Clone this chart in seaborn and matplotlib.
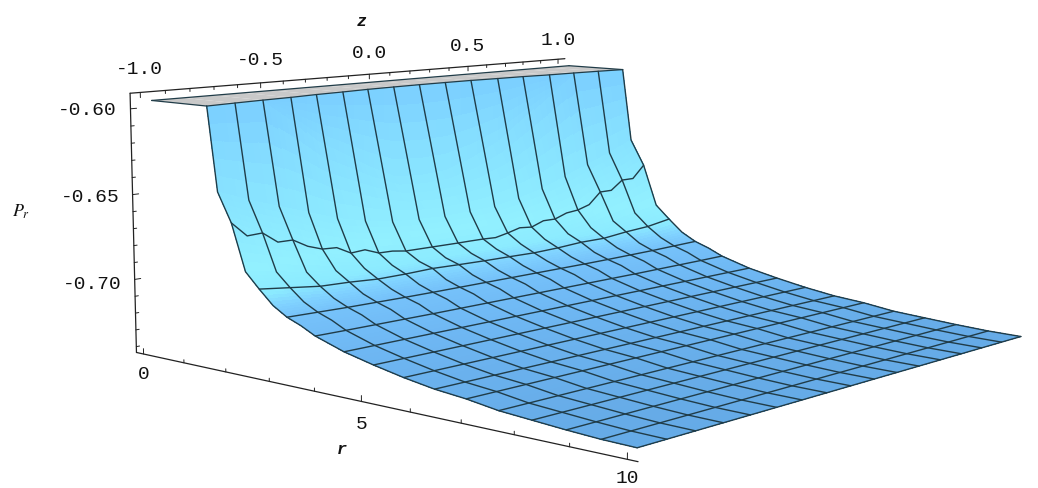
import numpy as np
import matplotlib
matplotlib.use('Agg')
import matplotlib.pyplot as plt
from mpl_toolkits.mplot3d import proj3d
import seaborn as sns

# ---------- data ----------
r_start = 0.1
r_end = 10.0
z_values = [-1, -0.875, -0.75, -0.625, -0.5, -0.375, -0.25, -0.125, 0,
            0.125, 0.25, 0.375, 0.5, 0.625, 0.75, 0.875, 1]
P_clip = -0.595
r_clip_edge = [1.43, 1.36, 1.30, 1.26, 1.18, 1.14, 1.08, 1.06, 1.05,
               1.06, 1.08, 1.14, 1.18, 1.26, 1.30, 1.36, 1.43]
r_rows = [1.3375, 1.647, 1.956, 2.266, 2.575, 2.884, 3.194, 3.503, 3.8125,
          4.431, 5.05, 5.669, 6.2875, 6.906, 7.525, 8.144, 8.7625, 9.381, 10.0]
P_r1_34 = [-0.595, -0.595, -0.595, -0.6082, -0.6230, -0.6328, -0.6427, -0.6511, -0.6526,
           -0.6515, -0.6458, -0.6366, -0.6233, -0.6089, -0.595, -0.595, -0.595]
P_r1_65 = [-0.643, -0.650, -0.656, -0.662, -0.668, -0.672, -0.675, -0.676, -0.6765,
           -0.676, -0.675, -0.672, -0.668, -0.662, -0.656, -0.650, -0.643]
P_r1_96 = [-0.6595, -0.6678, -0.6745, -0.6825, -0.6876, -0.6903, -0.6918, -0.6920, -0.6922,
           -0.6923, -0.6910, -0.6897, -0.6869, -0.6833, -0.6735, -0.6676, -0.6595]
P_r2_27 = [-0.686, -0.689, -0.692, -0.694, -0.6955, -0.6965, -0.697, -0.6975, -0.6975,
           -0.6975, -0.697, -0.6965, -0.6955, -0.694, -0.692, -0.689, -0.686]
P_r2_58 = [-0.6945, -0.6967, -0.6989, -0.6995, -0.7006, -0.7005, -0.7000, -0.7005, -0.7009,
           -0.7011, -0.7014, -0.7009, -0.6999, -0.6999, -0.6982, -0.6971, -0.6945]
P_r2_88 = [-0.7024, -0.7035, -0.7045, -0.705, -0.7053, -0.7055, -0.7055, -0.7055, -0.7055,
           -0.7055, -0.7055, -0.7055, -0.7053, -0.705, -0.7045, -0.7035, -0.7024]
P_r3_19 = [-0.7075, -0.7079, -0.7083, -0.7085, -0.7087, -0.7088, -0.7088, -0.7088, -0.7088,
           -0.7088, -0.7088, -0.7088, -0.7087, -0.7085, -0.7083, -0.7079, -0.7075]
P_r3_50 = [-0.7108, -0.7110, -0.7112, -0.7113, -0.7114, -0.7115, -0.7115, -0.7115, -0.7115,
           -0.7115, -0.7115, -0.7115, -0.7114, -0.7113, -0.7112, -0.7110, -0.7108]
P_r3_81 = [-0.7150, -0.7152, -0.7153, -0.7154, -0.7155, -0.7155, -0.7155, -0.7155, -0.7155,
           -0.7155, -0.7155, -0.7155, -0.7155, -0.7154, -0.7153, -0.7152, -0.7150]
P_far_rows = [-0.7206, -0.7246, -0.7281, -0.7309, -0.7326, -0.7352, -0.7365, -0.7378, -0.7388, -0.7392]
# the mesh line at r = 1.96, read every half cell: it wobbles
P_r1_96_line = [-0.6595, -0.6682, -0.6678, -0.6744, -0.6745, -0.6795, -0.6825, -0.6830, -0.6876,
                -0.6870, -0.6903, -0.6905, -0.6918, -0.6919, -0.6920, -0.6921, -0.6922, -0.6922,
                -0.6923, -0.6927, -0.6910, -0.6889, -0.6897, -0.6868, -0.6869, -0.6841, -0.6833,
                -0.6809, -0.6735, -0.6735, -0.6676, -0.6676, -0.6595]
shade_levels = [-0.745, -0.735, -0.72, -0.708, -0.703, -0.697, -0.685, -0.655, -0.625, -0.595]
shade_colors = ['#62A6E2', '#68AEEA', '#6FB8F4', '#76C2FA', '#80D2FF', '#8CEBFF', '#92F0FF',
                '#8AE6FF', '#84DCFF', '#7BCFFF']
plate_color = '#C9C9C9'
mesh_color = '#203C48'
r_ticks = list(range(0, 11))
r_labels = [0, 5, 10]
z_ticks = [-1.0, -0.9, -0.8, -0.7, -0.6, -0.5, -0.4, -0.3, -0.2, -0.1, 0.0,
           0.1, 0.2, 0.3, 0.4, 0.5, 0.6, 0.7, 0.8, 0.9, 1.0]
z_labels = [-1.0, -0.5, 0.0, 0.5, 1.0]
P_ticks = [-0.60, -0.61, -0.62, -0.63, -0.64, -0.65, -0.66, -0.67, -0.68, -0.69,
           -0.70, -0.71, -0.72, -0.73, -0.74]
P_labels = [-0.60, -0.65, -0.70]

# ---------- figure ----------
sns.set_theme(style='white')
W, H = 1038, 488
fig = plt.figure(figsize=(W / 100, H / 100), dpi=100, facecolor='white')
ax = fig.add_axes([0, 0, 1, 1], projection='3d', computed_zorder=False)
Z_LIM = (-1.04, 1.04)
P_LIM = (-0.7435, -0.591)
for _ in range(2):
    ax.set_xlim(-0.18, 10.18)
    ax.set_ylim(*Z_LIM)
    ax.set_zlim(*P_LIM)
ax.margins(0)
R_LO, R_HI = ax.get_xlim()
ax.view_init(elev=8.3990, azim=-49.5960, roll=-0.3409)
ax.set_proj_type('persp', focal_length=float(np.exp(-0.8012)))
ax.set_box_aspect((np.exp(0.7904), np.exp(0.7908), np.exp(-0.1242)))
ax.set_xticks([])
ax.set_yticks([])
ax.set_zticks([])
ax.set_xlim(R_LO, R_HI, view_margin=0)
ax.set_axis_off()
ax.patch.set_alpha(0)
cx, cy, s = 594.41, 221.29, 4963.8
x0, y0, x1, y1 = ax.viewLim.extents
L = s * (x1 - x0)
ax.set_position([(cx + s * x0) / W, (H - cy + s * y0) / H, L / W, L / H])

# surface table
z_arr = np.array(z_values)
nj = len(z_arr)
rows_P = [P_r1_34, P_r1_65, P_r1_96, P_r2_27, P_r2_58, P_r2_88, P_r3_19, P_r3_50, P_r3_81]
rows_P += [[v] * nj for v in P_far_rows]
P_table = np.vstack([np.full(nj, P_clip), np.array(rows_P)])
R_table = np.vstack([np.array(r_clip_edge), np.tile(np.array(r_rows)[:, None], (1, nj))])
Z_table = np.tile(z_arr, (len(R_table), 1))
in_plate = np.array(P_r1_34) <= P_clip + 1e-6
R_table[1, in_plate] = np.array(r_clip_edge)[in_plate]


def refine(A, n=5):
    m, q = A.shape
    ii = np.linspace(0, m - 1, (m - 1) * n + 1)
    jj = np.linspace(0, q - 1, (q - 1) * n + 1)
    a = np.array([np.interp(ii, np.arange(m), A[:, c]) for c in range(q)]).T
    return np.array([np.interp(jj, np.arange(q), row) for row in a])


Rf, Zf, Pf = refine(R_table), refine(Z_table), refine(P_table)
Pc = 0.25 * (Pf[:-1, :-1] + Pf[1:, :-1] + Pf[:-1, 1:] + Pf[1:, 1:])
cmap = sns.blend_palette(shade_colors, n_colors=256, as_cmap=True)
t = np.interp(Pc, shade_levels, np.linspace(0, 1, len(shade_levels)))
ax.plot_surface(Rf, Zf, Pf, facecolors=cmap(t), rstride=1, cstride=1, shade=False,
                linewidth=0, antialiased=False, zorder=1)

# clipped plate at the top
R_pl = np.vstack([np.full(nj, r_start), np.array(r_clip_edge)])
Z_pl = np.tile(z_arr, (2, 1))
P_pl = np.full_like(R_pl, P_clip)
ax.plot_surface(R_pl, Z_pl, P_pl, color=plate_color, shade=False, rstride=1, cstride=1,
                linewidth=0, antialiased=True, edgecolor=plate_color, zorder=1)
pl_kw = dict(color=mesh_color, lw=0.9, zorder=3)
ax.plot(R_pl[0], Z_pl[0], P_pl[0], **pl_kw)
ax.plot(R_pl[1], Z_pl[1], P_pl[1], **pl_kw)
ax.plot(R_pl[:, 0], Z_pl[:, 0], P_pl[:, 0], **pl_kw)
ax.plot(R_pl[:, -1], Z_pl[:, -1], P_pl[:, -1], **pl_kw)

# mesh lines
mesh_kw = dict(color=mesh_color, lw=1.0, zorder=3, solid_capstyle='round')
for j in range(nj):
    keep = np.ones(len(R_table), bool)
    keep[1] = not in_plate[j]
    ax.plot(R_table[keep, j], Z_table[keep, j], P_table[keep, j], **mesh_kw)
first, last = np.argmin(in_plate) - 1, nj - np.argmin(in_plate[::-1])
ax.plot(R_table[1, first:last + 1], z_arr[first:last + 1], np.array(P_r1_34)[first:last + 1], **mesh_kw)
z_half = np.interp(np.arange(33) / 2, np.arange(nj), z_arr)
ax.plot(np.full(33, r_rows[2]), z_half, P_r1_96_line, **mesh_kw)
half_rows = {2, 4, 6, 8}
for i in range(5, len(R_table)):
    if i not in half_rows:
        ax.plot(R_table[i], Z_table[i], P_table[i], **mesh_kw)

# the three axes
ax_kw = dict(color='#222222', lw=0.9, zorder=4)
ZLO, ZHI = Z_LIM
PLO, PHI = P_LIM
ax.plot([R_LO, R_HI], [ZLO, ZLO], [PLO, PLO], **ax_kw)
ax.plot([R_LO, R_LO], [ZLO, ZLO], [PLO, PHI], **ax_kw)
ax.plot([R_LO, R_LO], [ZLO, ZHI], [PHI, PHI], **ax_kw)
tk_kw = dict(color='#222222', lw=0.7, zorder=4)
for v in r_ticks:
    d = 0.0032 if v in r_labels else 0.0018
    ax.plot([v, v], [ZLO, ZLO], [PLO, PLO + d], **tk_kw)
for v in z_ticks:
    d = 0.003 if v in z_labels else 0.0018
    ax.plot([R_LO, R_LO], [v, v], [PHI, PHI - d], **tk_kw)
for v in P_ticks:
    d = 0.024 if v in P_labels else 0.013
    ax.plot([R_LO, R_LO], [ZLO, ZLO + d], [v, v], **tk_kw)

M = ax.get_proj()
font = dict(family='Liberation Mono', fontsize=14, color='#111111', ha='center', va='center')


def tick_text(r, z, P, label):
    x2, y2, _ = proj3d.proj_transform(r, z, P, M)
    ax.text2D(x2, y2, label, transform=ax.transData, **font)


for v, drop in zip(r_labels, [0.0125, 0.0125, 0.0095]):
    tick_text(v, ZLO, PLO - drop, str(v))
for v in z_labels:
    tick_text(R_LO, v, PHI + 0.0135, '%.1f' % v)
for v in P_labels:
    tick_text(R_LO, ZLO - 0.165, v + 0.0012, '%.2f' % v)

lab = dict(family='Liberation Mono', style='italic', weight='bold', fontsize=12, color='#111111',
           ha='center', va='center')
fig.text(362 / W, 1 - 21 / H, 'z', **lab)
fig.text(342 / W, 1 - 450 / H, 'r', **lab)
fig.text(21 / W, 1 - 212 / H, r'$P_r$', fontsize=13, color='#111111', ha='center', va='center',
         math_fontfamily='stix')

fig.savefig('out.png', dpi=100, facecolor='white')
